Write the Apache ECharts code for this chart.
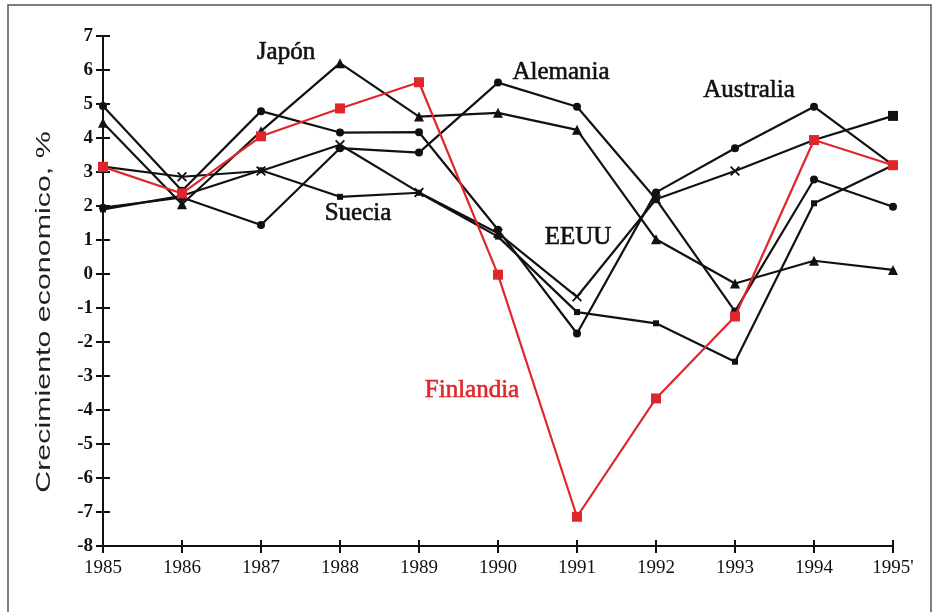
<!DOCTYPE html>
<html>
<head>
<meta charset="utf-8">
<script src="https://cdn.jsdelivr.net/npm/echarts@6/dist/echarts.min.js"></script>
<style>html,body{margin:0;padding:0;background:#fff}#c{width:939px;height:612px}</style>
</head>
<body>
<div id="c"></div>
<script>
const years = ['1985','1986','1987','1988','1989','1990','1991','1992','1993','1994',"1995'"];
const yTicks = [-8,-7,-6,-5,-4,-3,-2,-1,0,1,2,3,4,5,6,7];
const japon     = [4.45, 2.05, 4.2, 6.2, 4.63, 4.74, 4.24, 1.02, -0.28, 0.39, 0.12];
const alemania  = [1.95, 2.25, 1.44, 3.7, 3.57, 5.63, 4.92, 2.2, -1.1, 2.78, 1.98];
const australia = [4.94, 2.45, 4.79, 4.16, 4.17, 1.3, -1.75, 2.4, 3.7, 4.92, 3.2];
const eeuu      = [3.16, 2.86, 3.03, 3.8, 2.4, 1.2, -0.67, 2.2, 3.03, 3.94, 4.65];
const suecia    = [1.9, 2.3, 3.05, 2.27, 2.39, 1.1, -1.12, -1.45, -2.58, 2.08, 3.2];
const finlandia = [3.15, 2.37, 4.05, 4.87, 5.64, -0.02, -7.14, -3.66, -1.25, 3.94, 3.2];
const labels = [
  {text:'Japón', x:286, y:52, color:'#111'},
  {text:'Alemania', x:561, y:72, color:'#111'},
  {text:'Australia', x:749, y:90, color:'#111'},
  {text:'Suecia', x:358, y:213, color:'#111'},
  {text:'EEUU', x:578, y:237, color:'#111'},
  {text:'Finlandia', x:472, y:390, color:'#e0262b'}
];

const chart = echarts.init(document.getElementById('c'), null, {renderer:'canvas'});
const X_SYMBOL = 'path://M0,1.3L1.3,0L5,3.7L8.7,0L10,1.3L6.3,5L10,8.7L8.7,10L5,6.3L1.3,10L0,8.7L3.7,5Z';
const BLACK = '#111';
const RED = '#e0262b';
function line(name, data, symbol, size, color) {
  return {
    name, type:'line', data, symbol, symbolSize:size, showSymbol:true,
    lineStyle:{color, width:2.2}, itemStyle:{color}, animation:false, z: color===RED?5:3
  };
}
const axisFont = {fontFamily:'Liberation Serif', fontSize:19, color:'#111', fontWeight:'bold'};
const yMin = yTicks[0], yMax = yTicks[yTicks.length-1];
chart.setOption({
  backgroundColor:'#fff',
  animation:false,
  grid:{left:103, right:46, top:36, bottom:66},
  xAxis:[
    {type:'category', data:years, boundaryGap:false,
     axisLine:{onZero:false, lineStyle:{color:BLACK, width:2}},
     axisTick:{show:true, length:7, lineStyle:{color:BLACK, width:2}, alignWithLabel:true},
     axisLabel:Object.assign({margin:13}, axisFont, {fontWeight:'normal'}),
     splitLine:{show:false}},
    {type:'category', data:years, boundaryGap:false, position:'bottom',
     axisLine:{show:false, onZero:false},
     axisTick:{show:true, inside:true, length:6, lineStyle:{color:BLACK, width:2}},
     axisLabel:{show:false}, splitLine:{show:false}}
  ],
  yAxis:[
    {type:'value', min:yMin, max:yMax, interval:1,
     axisLine:{show:true, onZero:false, lineStyle:{color:BLACK, width:2}},
     axisTick:{show:true, length:7, lineStyle:{color:BLACK, width:2}},
     axisLabel:Object.assign({margin:10}, axisFont),
     splitLine:{show:false}},
    {type:'value', min:yMin, max:yMax, interval:1, position:'left',
     axisLine:{show:false, onZero:false},
     axisTick:{show:true, inside:true, length:7, lineStyle:{color:BLACK, width:2}},
     axisLabel:{show:false}, splitLine:{show:false}}
  ],
  series:[
    line('Japón', japon, 'triangle', 10, BLACK),
    line('Alemania', alemania, 'circle', 8, BLACK),
    line('Australia', australia, 'circle', 8, BLACK),
    line('EEUU', eeuu.map((v,i)=> i===eeuu.length-1 ? {value:v, symbol:'rect', symbolSize:10} : v), X_SYMBOL, 10, BLACK),
    line('Suecia', suecia, 'rect', 6, BLACK),
    line('Finlandia', finlandia, 'rect', 10, RED)
  ],
  graphic:[
    {type:'rect', shape:{x:8, y:5, width:923, height:620}, style:{fill:'none', stroke:'#555', lineWidth:1.5}, silent:true},
    {type:'text', x:45, y:312, rotation:Math.PI/2, scaleX:1.6, scaleY:1.05,
     style:{text:'Crecimiento economico, %', font:'19px "Liberation Sans"', fill:'#222', align:'center', verticalAlign:'middle'}}
  ].concat(labels.map(l=>({
    type:'text', x:l.x, y:l.y, z:10,
    style:{text:l.text, font:'25px "Liberation Serif"', fill:l.color, align:'center', verticalAlign:'middle', stroke:l.color, lineWidth:0.6}
  })))
});
</script>
</body>
</html>
